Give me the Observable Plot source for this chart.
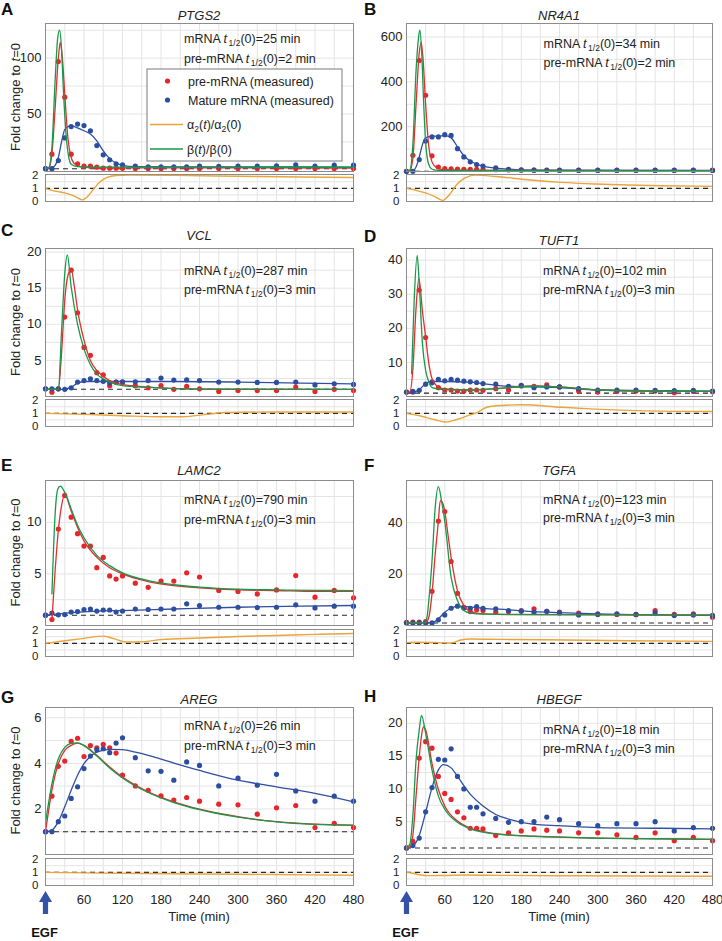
<!DOCTYPE html>
<html><head><meta charset="utf-8">
<script src="https://cdn.jsdelivr.net/npm/d3@7"></script>
<script src="https://cdn.jsdelivr.net/npm/@observablehq/plot@0.6"></script>
<style>
html,body{margin:0;padding:0;background:#fff;overflow:hidden;}
#fig{position:relative;width:722px;height:941px;background:#fff;font-family:"Liberation Sans",Arial,Helvetica,sans-serif;}
#fig svg{position:absolute;}
</style></head><body><div id="fig"></div>
<script>
// ---------- shared axes ----------
const T = [0,10,20,30,40,50,60,70,80,90,100,110,120,140,160,180,200,220,240,270,300,330,360,390,420,450,480];
const xTicks = [60,120,180,240,300,360,420,480];
const xGrid = [30,60,90,120,150,180,210,240,270,300,330,360,390,420,450];
const subTicks = [0,1,2];
const subGrid = [0.5,1,1.5];

// ---------- A: PTGS2 ----------
const ptgs2Pre = [1,14,97,65,14,5.4,3.3,3.3,2.4,1.5,1.5,1.5,1.3,1.2,1.2,1.2,1.2,1.2,1.2,1.2,1.2,1.2,1.2,1.2,1.2,1.2,1.2];
const ptgs2Mat = [1,1,8.3,28.6,38.7,41,39.6,35,21.7,13.4,9,5.4,4.5,3.3,2.7,2.7,2.7,2.7,3.3,3,3.3,3.3,3.6,4.5,3.3,4.2,4.2];
const ptgs2PreFit = [[0,1],[5,1.5],[10,14],[15,55],[20,100],[23,114],[26,102],[30,68],[35,28],[40,11],[45,5.5],[50,3.5],[60,2.2],[100,1.8],[480,1.6]];
const ptgs2Beta = [[0,1],[5,2],[10,20],[15,80],[19,118],[22,125],[25,108],[28,70],[32,32],[36,12],[40,5],[50,2.8],[80,2.4],[480,2.3]];
const ptgs2MatFit = [[0,1],[10,2],[15,4],[20,11],[25,25],[30,36],[40,39.6],[50,37.5],[60,35],[70,32],[80,26],[90,17],[100,10],[110,6],[120,4],[140,2.8],[200,2.6],[480,2.5]];
const ptgs2Alpha = [[0,1],[10,0.85],[20,0.75],[30,0.65],[40,0.5],[50,0.28],[57,0.12],[65,0.35],[75,0.95],[85,1.5],[95,1.82],[110,1.97],[130,2.0],[200,1.98],[300,1.92],[400,1.86],[480,1.82]];

// ---------- B: NR4A1 ----------
const nr4a1Pre = [1,72,495,340,70,20,13,12,11,10,10,10,9,8,7,6,6,6,6,6,6,6,6,6,6,6,6];
const nr4a1Mat = [1,1,53,136,154,154,164,161,102,65,43,31,24,16,10,7,6,5,5,5,5,5,5,5,5,5,5];
const nr4a1PreFit = [[0,1],[5,3],[10,60],[15,300],[20,530],[23,576],[26,500],[30,300],[35,110],[40,43],[45,22],[50,13],[60,8],[100,5],[480,3]];
const nr4a1Beta = [[0,1],[5,5],[10,120],[15,450],[19,600],[21,631],[24,520],[27,300],[30,130],[35,30],[40,10],[50,5],[480,4]];
const nr4a1MatFit = [[0,1],[10,3],[15,20],[20,65],[25,120],[30,150],[40,158],[50,158],[60,160],[70,150],[80,110],[90,70],[100,47],[110,33],[120,24],[140,15],[160,10],[200,6],[480,5]];
const nr4a1Alpha = [[0,1],[15,0.85],[30,0.65],[45,0.35],[57,0.08],[67,0.5],[80,1.35],[92,1.8],[107,2.0],[140,1.9],[190,1.65],[243,1.45],[296,1.33],[348,1.25],[400,1.2],[480,1.15]];

// ---------- C: VCL ----------
const vclPre = [1.06,0.6,1.06,11.0,17.5,11.6,6.8,5.7,3.3,3.0,1.5,2.0,2.0,1.5,1.2,1.5,1.0,1.4,1.06,0.7,0.83,0.83,0.83,1.3,0.7,1.0,0.83];
const vclMat = [1.06,1.06,1.06,1.0,1.2,2.0,2.2,2.45,2.2,2.1,1.9,2.0,2.04,2.04,2.2,2.55,2.27,2.3,2.2,2.0,2.0,1.95,1.95,2.0,1.6,1.75,1.67];
const vclPreFit = [[0,1],[20,1],[25,6],[30,13.3],[35,16.8],[40,17.6],[45,15.2],[50,12],[60,7.8],[70,5],[80,3.6],[90,2.8],[100,2.2],[120,1.67],[160,1.3],[200,1.1],[260,1.0],[480,1.0]];
const vclBeta = [[0,1],[20,1],[25,9],[30,17],[34,19.6],[40,15.2],[50,10],[60,6.6],[70,4.4],[80,3.1],[90,2.45],[100,2.0],[120,1.5],[160,1.25],[220,1.05],[480,1.0]];
const vclMatFit = [[0,1],[30,1.0],[40,1.3],[50,1.85],[60,2.08],[120,2.08],[200,2.08],[300,2.0],[400,1.85],[480,1.76]];
const vclAlpha = [[0,1],[60,0.92],[120,0.82],[180,0.74],[215,0.74],[250,0.92],[280,1.06],[350,1.1],[480,1.1]];

// ---------- D: TUFT1 ----------
const tuft1Pre = [1.3,1.3,31.2,17.3,4.3,2.6,1.9,1.9,1.6,1.6,1.9,1.9,1.8,2.3,1.9,3.1,3.0,3.4,2.8,1.6,1.3,1.5,1.6,1.6,1.1,1.5,1.4];
const tuft1Mat = [1.3,1.5,1.8,3.6,4.0,5.0,4.6,5.0,4.8,4.5,4.3,4.1,3.8,3.6,3.0,3.3,2.6,2.8,2.8,2.3,1.9,1.9,1.9,1.8,1.7,1.8,1.6];
const tuft1PreFit = [[0,1.3],[5,1.3],[10,8],[15,26],[19.5,34.6],[25,25],[30,17.5],[35,9.7],[40,5.3],[50,2.8],[60,2.2],[100,1.9],[140,2.3],[170,2.8],[200,3.1],[240,2.8],[300,1.9],[400,1.5],[480,1.5]];
const tuft1Beta = [[8,6.7],[12,28],[16.7,41.4],[20,33],[25,15.5],[30,7.7],[35,4.3],[40,2.6],[60,2.0],[100,1.9],[140,2.3],[200,3.0],[240,2.8],[300,1.9],[480,1.5]];
const tuft1MatFit = [[0,1.3],[10,1.35],[20,2.0],[30,3.8],[40,4.4],[60,4.4],[100,4.2],[120,3.8],[160,3.0],[200,2.8],[240,2.6],[300,1.9],[400,1.7],[480,1.6]];
const tuft1Alpha = [[0,1],[22,0.8],[43,0.53],[61,0.34],[79,0.53],[95,0.8],[111,1.08],[127,1.48],[150,1.6],[180,1.65],[243,1.46],[295,1.32],[374,1.19],[480,1.14]];

// ---------- E: LAMC2 ----------
const lamc2Pre = [1.0,0.58,9.35,12.6,10.5,8.9,7.7,7.7,5.6,6.6,4.8,4.5,4.8,4.1,3.7,4.3,4.3,5.1,4.7,3.4,3.3,3.06,3.45,4.84,2.74,3.4,2.68];
const lamc2Mat = [1.0,1.2,1.03,1.06,1.3,1.35,1.55,1.6,1.4,1.5,1.5,1.3,1.4,1.6,1.55,1.6,1.6,2.1,1.94,1.77,1.77,1.74,1.77,2.0,1.7,1.87,1.87];
const lamc2PreFit = [[10,0.5],[15,5.3],[20,9.2],[25,11.6],[30,12.7],[40,11.1],[50,9.5],[60,8.2],[80,6.6],[100,5.6],[120,5.0],[160,4.26],[200,3.87],[240,3.65],[300,3.45],[360,3.39],[420,3.3],[480,3.3]];
const lamc2Beta = [[10,3.06],[15,10.8],[19,13.2],[23,13.5],[30,12.9],[40,11.3],[50,9.7],[60,8.5],[80,6.8],[100,5.8],[120,5.1],[160,4.35],[200,3.95],[240,3.72],[300,3.52],[360,3.45],[420,3.4],[480,3.38]];
const lamc2MatFit = [[0,1.0],[40,1.25],[80,1.4],[120,1.45],[200,1.6],[300,1.77],[400,1.87],[480,1.94]];
const lamc2Alpha = [[0,1],[30,1.2],[60,1.38],[90,1.55],[105,1.38],[125,1.1],[150,1.12],[180,1.28],[240,1.4],[300,1.52],[360,1.6],[420,1.68],[480,1.75]];

// ---------- F: TGFA ----------
const tgfaPre = [1.2,1.3,1.3,1.5,13.3,40.6,44.3,24.9,12.5,7.1,5.4,6.1,5.8,5.2,5.4,5.8,6.5,5.5,5.2,4.8,4.5,4.3,4.2,5.8,4.3,4.5,3.2];
const tgfaMat = [1.0,1.0,1.0,1.0,1.0,2.2,4.1,6.7,7.5,6.8,6.7,7.4,6.7,6.5,5.8,5.5,5.2,5.5,4.9,4.1,4.3,4.5,4.3,4.9,3.9,4.1,3.9];
const tgfaPreFit = [[0,1],[30,1.1],[35,3.2],[40,12.3],[45,27.7],[50,40.6],[53,48.6],[56,48],[60,44.5],[65,35.5],[70,26.5],[80,13.5],[90,7.7],[100,5.5],[120,4.5],[160,4.2],[480,4.0]];
const tgfaBeta = [[0,1],[28,1.1],[32,3],[35,9.7],[40,25],[45,45.8],[50,54],[55,48.4],[60,40.6],[70,18.7],[80,9.7],[90,5.8],[100,4.8],[120,4.4],[480,4.0]];
const tgfaMatFit = [[0,1],[40,1.1],[50,2.6],[60,5.2],[70,6.7],[80,7.5],[90,7.4],[120,6.7],[160,6.1],[200,5.4],[240,5.0],[300,4.5],[400,4.1],[480,3.9]];
const tgfaAlpha = [[0,1.05],[20,1.08],[50,1.05],[70,1.02],[85,1.25],[100,1.33],[150,1.3],[250,1.25],[350,1.2],[480,1.15]];

// ---------- G: AREG ----------
const aregPre = [1.0,2.56,3.87,4.1,4.96,5.1,4.3,4.78,4.68,4.83,4.68,4.45,3.48,3.01,2.82,2.57,2.39,2.5,2.34,2.21,2.18,1.77,2.05,2.15,1.18,1.37,1.18];
const aregMat = [1.0,1.0,1.44,1.69,2.46,2.97,3.77,4.32,4.6,4.64,4.47,4.89,5.12,4.25,3.67,3.65,3.26,4.06,3.91,3.01,3.35,3.04,3.52,2.79,2.34,2.56,2.34];
const aregPreFit = [[0,1.0],[5,1.95],[10,2.82],[20,3.99],[30,4.57],[40,4.79],[50,4.89],[60,4.79],[80,4.35],[100,3.84],[120,3.4],[160,2.75],[200,2.31],[240,1.99],[300,1.66],[360,1.44],[420,1.33],[480,1.29]];
const aregBeta = [[0,1.4],[5,2.3],[10,3.1],[20,4.2],[30,4.7],[40,4.88],[50,4.9],[60,4.78],[80,4.32],[100,3.8],[120,3.36],[160,2.72],[200,2.28],[240,1.97],[300,1.64],[360,1.43],[420,1.32],[480,1.28]];
const aregMatFit = [[0,1.0],[10,1.07],[20,1.44],[30,2.09],[40,2.82],[50,3.48],[60,3.99],[70,4.3],[80,4.49],[100,4.61],[120,4.6],[140,4.49],[160,4.35],[200,4.01],[240,3.69],[300,3.26],[360,2.97],[420,2.68],[480,2.31]];
const aregAlpha = [[0,1.0],[60,0.96],[120,0.92],[240,0.87],[360,0.83],[480,0.78]];

// ---------- H: HBEGF ----------
const hbegfPre = [1.0,2.0,14.7,17.2,16.2,11.9,9.3,8.4,6.5,5.6,4.0,4.0,3.9,2.9,3.3,3.6,3.9,3.7,3.6,3.3,3.3,3.0,2.6,3.3,2.1,2.6,2.1];
const hbegfMat = [1.0,1.36,2.5,6.5,10.2,14.5,14.4,16.1,11.9,10.0,7.2,7.2,6.2,5.5,4.9,5.0,5.0,5.7,5.3,4.7,4.4,4.7,4.7,5.0,3.6,4.1,4.0];
const hbegfPreFit = [[0,1.0],[5,1.1],[10,2.9],[15,8.9],[20,14.9],[25,19.0],[27,19.5],[30,19.0],[40,13.9],[50,9.9],[60,7.4],[80,5.1],[100,4.0],[120,3.5],[160,3.0],[200,2.8],[300,2.5],[400,2.4],[480,2.3]];
const hbegfBeta = [[0,1.0],[5,1.5],[10,5.9],[15,14.4],[20,19.0],[23.5,21.2],[30,18.5],[40,12.9],[50,8.9],[60,6.9],[80,4.9],[100,3.9],[120,3.4],[160,2.95],[200,2.75],[300,2.5],[400,2.4],[480,2.3]];
const hbegfMatFit = [[0,1.0],[10,1.3],[20,2.9],[30,6.4],[40,10.2],[50,12.9],[58,13.7],[70,13.2],[80,11.9],[100,9.2],[120,7.4],[140,6.1],[160,5.4],[200,4.6],[240,4.4],[300,4.1],[400,4.0],[480,3.9]];
const hbegfAlpha = [[0,1.0],[10,0.93],[20,0.82],[35,0.75],[60,0.76],[90,0.8],[150,0.77],[250,0.74],[480,0.7]];

// ---------- panel table (built from the arrays above) ----------
const panels = [
  {letter:"A", gene:"PTGS2", mrna:25,  pre:2, col:0, row:0, ymin:-1.5, ymax:131,  yTicks:[50,100], yGrid:[25,50,75,100,125], preV:ptgs2Pre, matV:ptgs2Mat, preFit:ptgs2PreFit, beta:ptgs2Beta, matFit:ptgs2MatFit, alpha:ptgs2Alpha, letterY:15, titleY:15, ann:[184,38.3,58.3]},
  {letter:"B", gene:"NR4A1", mrna:34,  pre:2, col:1, row:0, ymin:0, ymax:660, yTicks:[200,400,600], yGrid:[100,200,300,400,500,600], preV:nr4a1Pre, matV:nr4a1Mat, preFit:nr4a1PreFit, beta:nr4a1Beta, matFit:nr4a1MatFit, alpha:nr4a1Alpha, letterY:15, titleY:15, ann:[543.5,43,62]},
  {letter:"C", gene:"VCL",   mrna:287, pre:3, col:0, row:1, ymin:0, ymax:20.5, yTicks:[5,10,15,20], yGrid:[2.5,5,7.5,10,12.5,15,17.5,20], preV:vclPre, matV:vclMat, preFit:vclPreFit, beta:vclBeta, matFit:vclMatFit, alpha:vclAlpha, letterY:236, titleY:235, ann:[184,270,289]},
  {letter:"D", gene:"TUFT1", mrna:102, pre:3, col:1, row:1, ymin:0, ymax:43.4, yTicks:[10,20,30,40], yGrid:[5,10,15,20,25,30,35,40], preV:tuft1Pre, matV:tuft1Mat, preFit:tuft1PreFit, beta:tuft1Beta, matFit:tuft1MatFit, alpha:tuft1Alpha, letterY:242, titleY:240, ann:[543,270,289.3]},
  {letter:"E", gene:"LAMC2", mrna:790, pre:3, col:0, row:2, ymin:0, ymax:14.05, yTicks:[5,10], yGrid:[2.5,5,7.5,10,12.5], preV:lamc2Pre, matV:lamc2Mat, preFit:lamc2PreFit, beta:lamc2Beta, matFit:lamc2MatFit, alpha:lamc2Alpha, letterY:471, titleY:470, ann:[184,499.3,519]},
  {letter:"F", gene:"TGFA",  mrna:123, pre:3, col:1, row:2, ymin:0, ymax:56.4, yTicks:[20,40], yGrid:[10,20,30,40,50], preV:tgfaPre, matV:tgfaMat, preFit:tgfaPreFit, beta:tgfaBeta, matFit:tgfaMatFit, alpha:tgfaAlpha, letterY:471, titleY:470, ann:[543,499,517.7]},
  {letter:"G", gene:"AREG",  mrna:26,  pre:3, col:0, row:3, ymin:0, ymax:6.45, yTicks:[2,4,6], yGrid:[1,2,3,4,5,6], preV:aregPre, matV:aregMat, preFit:aregPreFit, beta:aregBeta, matFit:aregMatFit, alpha:aregAlpha, letterY:703, titleY:699, ann:[184,725.7,745]},
  {letter:"H", gene:"HBEGF", mrna:18,  pre:3, col:1, row:3, ymin:0, ymax:22.4, yTicks:[5,10,15,20], yGrid:[2.5,5,7.5,10,12.5,15,17.5,20], preV:hbegfPre, matV:hbegfMat, preFit:hbegfPreFit, beta:hbegfBeta, matFit:hbegfMatFit, alpha:hbegfAlpha, letterY:702, titleY:699, ann:[543,729,748.3]}
];

// ---------- styling / layout ----------
const FONT = '"Liberation Sans", Arial, Helvetica, sans-serif';
const COL = {red:"#e6262c", blue:"#2c4ea0", green:"#17994b", orange:"#eaa43a", redLine:"#e0302f", blueLine:"#2f4fa0", grid:"#e4e4e4", frame:"#8c8c8c", dash:"#262626"};
const colLeft = [45, 406], colWidth = [308, 306];
const rowMainTop = [23, 248, 480, 707], rowMainH = [148, 148, 145, 147];
const rowSubTop = [174, 399, 629, 858], subH = 27;
const ML = 40, MR = 8;
const intFmt = d => String(d);

const fig = document.getElementById("fig");
const pts = arr => arr.map(([t, v]) => ({t, v}));

function place(svg, left, top) {
  svg.style.position = "absolute";
  svg.style.left = left + "px";
  svg.style.top = top + "px";
  fig.appendChild(svg);
}

panels.forEach(p => {
  const fl = colLeft[p.col], fw = colWidth[p.col];
  const ft = rowMainTop[p.row], fh = rowMainH[p.row];
  const MT = 6, MB = 4;
  const measured = T.map((t, i) => ({t, pre: p.preV[i], mat: p.matV[i]}));
  const main = Plot.plot({
    width: fw + ML + MR, height: fh + MT + MB,
    marginLeft: ML, marginRight: MR, marginTop: MT, marginBottom: MB,
    style: {background: "transparent", overflow: "visible", fontSize: "13px", fontFamily: FONT, color: "#222"},
    x: {domain: [0, 480], axis: null},
    y: {domain: [p.ymin, p.ymax], ticks: p.yTicks, tickSize: 0, tickPadding: 4, tickFormat: intFmt, label: null},
    marks: [
      Plot.ruleX(xGrid, {stroke: COL.grid}),
      Plot.ruleY(p.yGrid, {stroke: COL.grid}),
      Plot.ruleY([1], {stroke: COL.dash, strokeDasharray: "5,4", strokeWidth: 1.1}),
      Plot.dot(measured, {x: "t", y: "pre", r: 2.6, fill: COL.red}),
      Plot.dot(measured, {x: "t", y: "mat", r: 2.6, fill: COL.blue}),
      Plot.line(pts(p.matFit), {x: "t", y: "v", stroke: COL.blueLine, strokeWidth: 1.3, curve: "monotone-x"}),
      Plot.line(pts(p.preFit), {x: "t", y: "v", stroke: COL.redLine, strokeWidth: 1.3, curve: "monotone-x"}),
      Plot.line(pts(p.beta), {x: "t", y: "v", stroke: COL.green, strokeWidth: 1.3, curve: "monotone-x"}),
      Plot.frame({stroke: COL.frame})
    ]
  });
  place(main, fl - ML, ft - MT);

  const bottom = p.row === 3;
  const SMT = 3, SMB = bottom ? 34 : 3;
  const sub = Plot.plot({
    width: fw + ML + MR + (bottom ? 10 : 0), height: subH + SMT + SMB,
    marginLeft: ML, marginRight: MR + (bottom ? 10 : 0), marginTop: SMT, marginBottom: SMB,
    style: {background: "transparent", overflow: "visible", fontSize: "11.5px", fontFamily: FONT, color: "#222"},
    x: bottom ? {domain: [0, 480], ticks: xTicks, tickSize: 0, tickPadding: 9, tickFormat: intFmt, label: null}
              : {domain: [0, 480], axis: null},
    y: {domain: [0, 2.05], ticks: subTicks, tickSize: 0, tickPadding: 7, tickFormat: intFmt, label: null},
    marks: [
      Plot.ruleX(xGrid, {stroke: COL.grid}),
      Plot.ruleY(subGrid, {stroke: COL.grid}),
      Plot.ruleY([1], {stroke: COL.dash, strokeDasharray: "5,4", strokeWidth: 1.1}),
      Plot.line(pts(p.alpha), {x: "t", y: "v", stroke: COL.orange, strokeWidth: 1.4, curve: "monotone-x"}),
      Plot.frame({stroke: COL.frame})
    ]
  });
  if (bottom) sub.querySelectorAll('[aria-label="x-axis tick label"] text, g[aria-label="x-axis"] text').forEach(t => t.style.fontSize = "13px");
  place(sub, fl - ML, rowSubTop[p.row] - SMT);
});

// ---------- text overlay ----------
const ov = d3.select(fig).append("svg")
  .attr("width", 722).attr("height", 941)
  .style("left", "0px").style("top", "0px")
  .style("font-family", FONT).style("pointer-events", "none");

function halfLife(x, y, prefix, val) {
  const t = ov.append("text").attr("x", x).attr("y", y).attr("font-size", 12.5).attr("fill", "#222");
  t.append("tspan").text(prefix + " ");
  t.append("tspan").attr("font-style", "italic").text("t");
  t.append("tspan").attr("font-size", 8.5).attr("dx", 1.5).attr("dy", 3).text("1/2");
  t.append("tspan").attr("dy", -3).text(`(0)=${val} min`);
}

panels.forEach(p => {
  const fl = colLeft[p.col], fw = colWidth[p.col];
  const ft = rowMainTop[p.row], fh = rowMainH[p.row];
  ov.append("text").attr("x", p.col ? 364 : 1).attr("y", p.letterY)
    .attr("font-size", 17).attr("font-weight", "bold").attr("fill", "#111").text(p.letter);
  ov.append("text").attr("x", fl + fw / 2).attr("y", p.titleY + 4.5)
    .attr("text-anchor", "middle").attr("font-size", 13).attr("font-style", "italic").attr("fill", "#222").text(p.gene);
  halfLife(p.ann[0], p.ann[1] + 4.5, "mRNA", p.mrna);
  halfLife(p.ann[0], p.ann[2] + 4.5, "pre-mRNA", p.pre);
  if (p.col === 0) {
    const yl = ov.append("text")
      .attr("transform", `translate(20,${ft + fh / 2}) rotate(-90)`)
      .attr("text-anchor", "middle").attr("font-size", 13).attr("fill", "#222");
    yl.append("tspan").text("Fold change to ");
    yl.append("tspan").attr("font-style", "italic").text("t");
    yl.append("tspan").text("=0");
  }
  if (p.row === 3) {
    ov.append("text").attr("x", fl + fw / 2).attr("y", 920.5)
      .attr("text-anchor", "middle").attr("font-size", 13).attr("fill", "#222").text("Time (min)");
    const cx = fl + 0.5;
    ov.append("path")
      .attr("d", `M${cx},891 L${cx + 6.5},902 L${cx + 2.6},902 L${cx + 2.6},914 L${cx - 2.6},914 L${cx - 2.6},902 L${cx - 6.5},902 Z`)
      .attr("fill", "#3553a6");
    ov.append("text").attr("x", cx - 1).attr("y", 937)
      .attr("text-anchor", "middle").attr("font-size", 13).attr("font-weight", "bold").attr("fill", "#111").text("EGF");
  }
});

// ---------- legend (panel A) ----------
const lg = ov.append("g");
lg.append("rect").attr("x", 147).attr("y", 69).attr("width", 195).attr("height", 92)
  .attr("fill", "#fff").attr("stroke", "#7a7a7a");
lg.append("circle").attr("cx", 167.5).attr("cy", 81).attr("r", 2.6).attr("fill", COL.red);
lg.append("circle").attr("cx", 167.5).attr("cy", 100).attr("r", 2.6).attr("fill", COL.blue);
lg.append("line").attr("x1", 150).attr("x2", 183).attr("y1", 124.5).attr("y2", 124.5).attr("stroke", COL.orange).attr("stroke-width", 1.4);
lg.append("line").attr("x1", 150).attr("x2", 183).attr("y1", 149).attr("y2", 149).attr("stroke", COL.green).attr("stroke-width", 1.4);
const lt = (y) => lg.append("text").attr("x", 188).attr("y", y).attr("font-size", 12.5).attr("fill", "#222");
lt(85.5).text("pre-mRNA (measured)");
lt(104.5).text("Mature mRNA (measured)");
{
  const t = lg.append("text").attr("x", 187).attr("y", 129).attr("font-size", 12.5).attr("fill", "#222");
  t.append("tspan").text("\u03b1");
  t.append("tspan").attr("font-size", 8.5).attr("dy", 3).text("2");
  t.append("tspan").attr("dy", -3).text("(");
  t.append("tspan").attr("font-style", "italic").text("t");
  t.append("tspan").text(")/\u03b1");
  t.append("tspan").attr("font-size", 8.5).attr("dy", 3).text("2");
  t.append("tspan").attr("dy", -3).text("(0)");
}
{
  const t = lg.append("text").attr("x", 187).attr("y", 153.5).attr("font-size", 12.5).attr("fill", "#222");
  t.append("tspan").text("\u03b2(");
  t.append("tspan").attr("font-style", "italic").text("t");
  t.append("tspan").text(")/\u03b2(0)");
}
</script></body></html>
